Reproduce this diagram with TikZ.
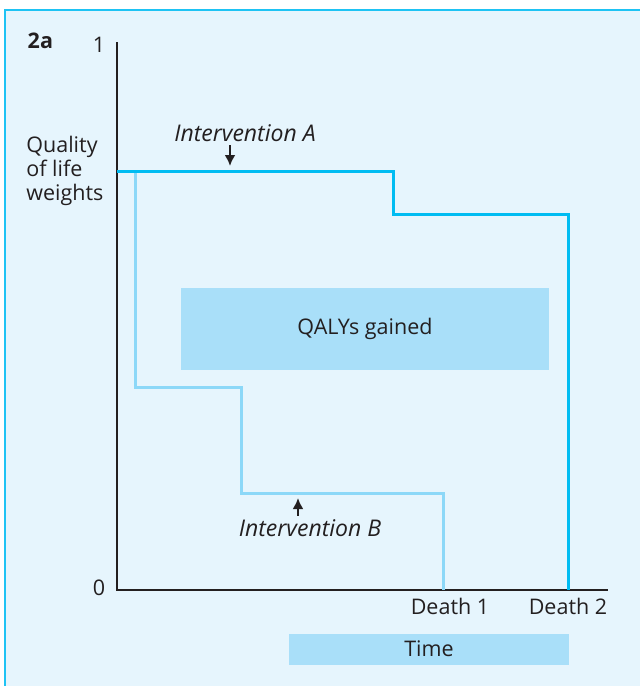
\documentclass[tikz,border=0pt]{standalone}
\usepackage{fontspec}
\setmainfont{Open Sans}
\usepackage{xcolor}
\usetikzlibrary{arrows.meta,positioning}

\definecolor{panelbg}{HTML}{E6F5FD}
\definecolor{framecol}{HTML}{1EC3F4}
\definecolor{lineA}{HTML}{00BCF2}
\definecolor{lineB}{HTML}{8CD8F8}
\definecolor{boxcol}{HTML}{A9DFF9}
\definecolor{inkcol}{HTML}{231F20}

\begin{document}
\begin{tikzpicture}[x=1pt,y=-1pt,thick,
    every node/.style={text=inkcol,font=\fontsize{21.5}{24}\selectfont},
    axis/.style={draw=inkcol,line width=2.6pt},
    stepA/.style={draw=lineA,line width=3pt},
    stepB/.style={draw=lineB,line width=3pt},
    band/.style={fill=boxcol,inner sep=0pt},
    pointer/.style={-{Latex[length=11pt,width=11pt]},draw=inkcol,line width=2.4pt},
    remark/.style={font=\fontsize{23}{26}\selectfont\itshape}]

    % Panel
    \useasboundingbox (0,0) rectangle (640,686);
    \fill[panelbg] (5,10) rectangle (640,686);
    \draw[framecol,line width=1.5pt] (5,686) -- (5,10) -- (640,10);

    % Axes
    \coordinate (top) at (117,42);
    \coordinate (O) at (117,590);
    \coordinate (xend) at (608,590);
    \draw[axis] (top) -- (O) -- (xend);
    \node [anchor=east] at (109,45) (one) {1};
    \node [anchor=east] at (109,588) (zero) {0};
    \node [anchor=west,font=\fontsize{21.5}{24}\selectfont\bfseries] at (24,41) (panel) {2a};
    \node [anchor=west,align=left,inner sep=0pt] at (26,171) (ylab) {Quality\\of life\\weights};

    % Shaded boxes
    \node [band,minimum width=368pt,minimum height=82pt] at (365,329) (qaly) {QALYs gained};
    \node [band,minimum width=280pt,minimum height=31pt] at (429,649) (time) {Time};

    % Step curves
    \draw[stepB] (135,171) -- (135,387) -- (241,387) -- (241,493) -- (443,493) -- (443,590);
    \draw[stepA] (O |- 0,171) -- (393,171) -- (393,214) -- (568,214) -- (568,590);

    % Labels on the time axis
    \node [anchor=north] at (450,594) (d1) {Death 1};
    \node [anchor=north] at (568,594) (d2) {Death 2};

    % Interventions
    \node [remark] at (245,133) (intA) {Intervention A};
    \coordinate (arrA) at (230,166);
    \draw[pointer] (intA.south -| arrA) -- (arrA);
    \node [remark] at (310,528) (intB) {Intervention B};
    \coordinate (arrB) at (298,498);
    \draw[pointer] (intB.north -| arrB) -- (arrB);

\end{tikzpicture}
\end{document}
